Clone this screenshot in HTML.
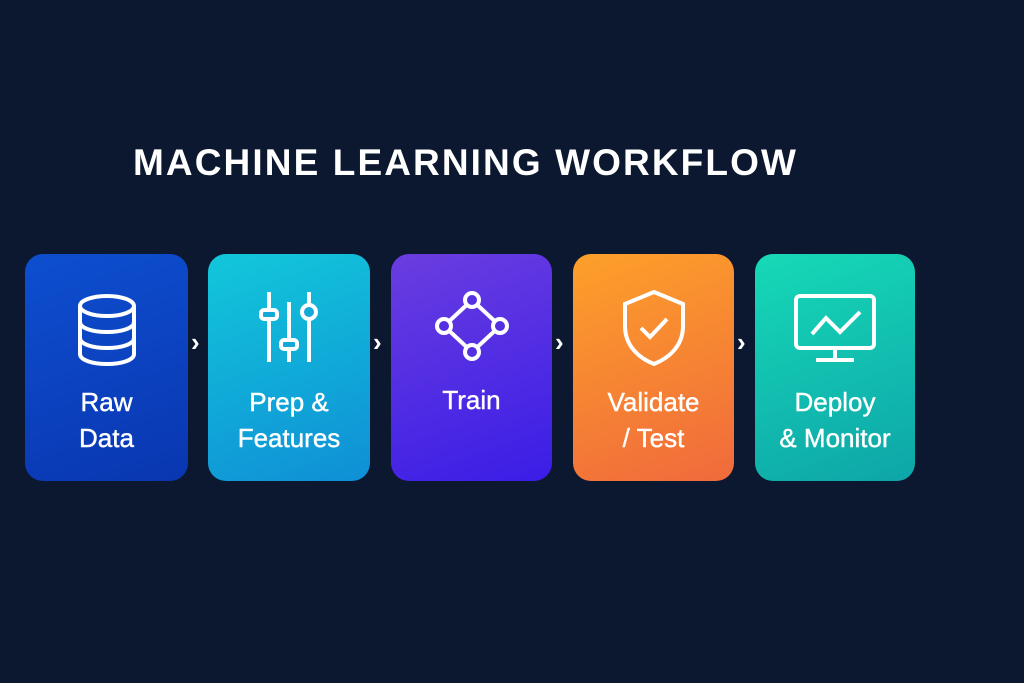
<!DOCTYPE html>
<html><head><style>
html,body{margin:0;padding:0}
body{width:1024px;height:683px;background:#0b1830;position:relative;overflow:hidden;font-family:"Liberation Sans",sans-serif}
.t{position:absolute;left:133px;top:142px;color:#fff;font-size:37px;font-weight:bold;letter-spacing:2.1px;white-space:nowrap}
.b{position:absolute;top:254px;height:227px;border-radius:18px;color:#fff}
.b svg{position:absolute;left:50%;top:36px;transform:translateX(-50%)}
.l{position:absolute;left:0;right:0;top:130px;text-align:center;font-size:26px;line-height:36px;-webkit-text-stroke:0.4px #fff}
.a{position:absolute;top:327px;color:#fff;font-size:26px;font-weight:bold}
</style></head><body>
<div class="t">MACHINE LEARNING WORKFLOW</div>

<div class="b" style="left:25px;width:163px;background:linear-gradient(160deg,#0d4fd0,#0a36b0)">
<svg width="70" height="80" viewBox="0 0 70 80" fill="none" stroke="#fff" stroke-width="4"><ellipse cx="35" cy="16" rx="27" ry="10"/><path d="M8 16v48c0 6 12 10 27 10s27-4 27-10V16"/><path d="M8 32c0 6 12 10 27 10s27-4 27-10M8 48c0 6 12 10 27 10s27-4 27-10"/></svg>
<div class="l">Raw<br>Data</div></div>
<div class="a" style="left:191px">›</div>

<div class="b" style="left:208px;width:162px;background:linear-gradient(160deg,#12c7da,#0f8fd6)">
<svg width="60" height="80" viewBox="0 0 60 80" fill="none" stroke="#fff" stroke-width="4"><path d="M10 2v70M30 12v60M50 2v70"/><rect x="2" y="20" width="16" height="9" rx="3" fill="#14a9d8"/><rect x="22" y="50" width="16" height="9" rx="3" fill="#14a9d8"/><circle cx="50" cy="22" r="7" fill="#14a9d8"/></svg>
<div class="l">Prep &amp;<br>Features</div></div>
<div class="a" style="left:373px">›</div>

<div class="b" style="left:391px;width:161px;background:linear-gradient(160deg,#6a3de0,#3a1de6)">
<svg width="76" height="80" viewBox="0 0 76 80" fill="none" stroke="#fff" stroke-width="4"><path d="M38 10L10 36L38 62L66 36Z"/><circle cx="38" cy="10" r="7" fill="#5530e2"/><circle cx="10" cy="36" r="7" fill="#5530e2"/><circle cx="66" cy="36" r="7" fill="#5530e2"/><circle cx="38" cy="62" r="7" fill="#5530e2"/></svg>
<div class="l" style="top:128px">Train</div></div>
<div class="a" style="left:555px">›</div>

<div class="b" style="left:573px;width:161px;background:linear-gradient(160deg,#fda02a,#f06a3c)">
<svg width="70" height="80" viewBox="0 0 70 80" fill="none" stroke="#fff" stroke-width="4"><path d="M35 2L6 14v22c0 20 14 32 29 38c15-6 29-18 29-38V14Z"/><path d="M22 38l9 9l17-18"/></svg>
<div class="l">Validate<br>/ Test</div></div>
<div class="a" style="left:737px">›</div>

<div class="b" style="left:755px;width:160px;background:linear-gradient(160deg,#16d9b7,#0ea5a8)">
<svg width="86" height="80" viewBox="0 0 86 80" fill="none" stroke="#fff" stroke-width="4"><rect x="4" y="6" width="78" height="52" rx="4"/><path d="M43 58v12M24 70h38"/><path d="M20 44l14-16l14 14l20-20"/></svg>
<div class="l">Deploy<br>&amp; Monitor</div></div>
</body></html>
